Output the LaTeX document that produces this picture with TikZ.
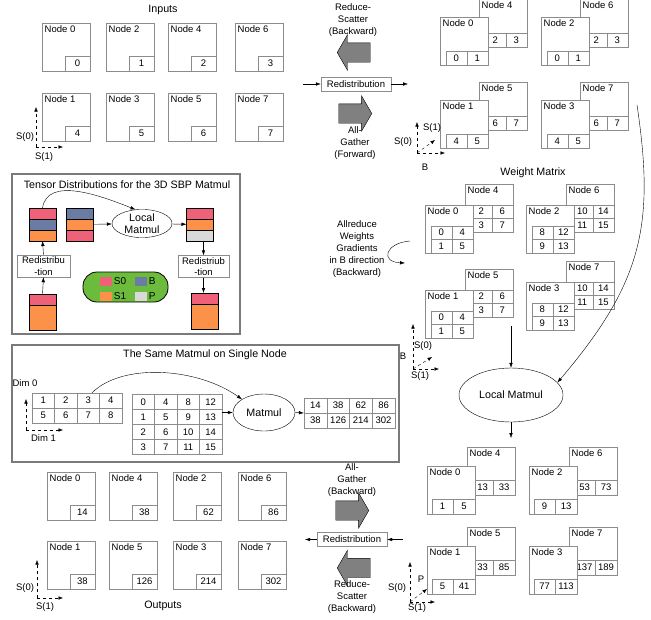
\documentclass[tikz,border=0pt]{standalone}
\usepackage{fontspec}
\setmainfont{Liberation Sans}
\usetikzlibrary{arrows.meta, positioning, shapes.geometric, shapes.arrows, matrix}

\definecolor{boxgray}{HTML}{8C8C8C}
\definecolor{framegray}{HTML}{7A7A7A}
\definecolor{sbpred}{HTML}{EF6079}
\definecolor{sbpblue}{HTML}{6A7BA4}
\definecolor{sbporange}{HTML}{FC9149}
\definecolor{sbpgray}{HTML}{D9D9D9}
\definecolor{legendgreen}{HTML}{6CBB3C}
\definecolor{bigarrowgray}{HTML}{808080}

\begin{document}
\begin{tikzpicture}[
x=1pt, y=-1pt,
font=\fontsize{9.5}{11.5}\selectfont,
heading/.style={font=\fontsize{10.7}{12}\selectfont},
nodebox/.style={
    draw=boxgray,
    fill=white,
    minimum width=48pt,
    minimum height=48pt,
    inner sep=0,
    outer sep=0,
    anchor=north west,
    label={[anchor=north west, inner sep=2.5pt]north west:#1}
},
valcell/.style={draw=boxgray, fill=white, minimum width=25pt, minimum height=15pt,
    inner sep=0, outer sep=0, anchor=south east},
cellgrid/.style={
    matrix of nodes,
    ampersand replacement=\&,
    inner sep=0, outer sep=0,
    column sep=-0.4pt, row sep=-0.4pt,
    anchor=south east,
    nodes={draw=boxgray, fill=white, minimum width=21pt, minimum height=13.5pt,
        inner sep=0, outer sep=0, anchor=center}
},
redist/.style={draw=boxgray, fill=white, minimum width=70pt, minimum height=14pt, inner sep=1pt},
multiline/.style={align=center, font=\fontsize{9.5}{12}\selectfont},
arrow/.style={-{Latex[length=5pt, width=3.5pt]}},
axis/.style={dashed, -{Latex[length=4.5pt, width=3.5pt]}},
bigarrow/.style={
    single arrow,
    draw,
    fill=bigarrowgray,
    minimum height=33pt,
    inner xsep=0pt,
    inner ysep=9.5pt,
    single arrow head extend=8pt,
    single arrow tip angle=120,
    anchor=tip
},
frame/.style={draw=framegray, line width=1.6pt, minimum width=#1, anchor=north west},
bar/.style={draw, line width=0.8pt, minimum width=27pt, minimum height=11pt, inner sep=0, outer sep=0},
legsq/.style={minimum width=12pt, minimum height=9pt, inner sep=0}
]
\useasboundingbox (0,0) rectangle (651,619);

% Inputs
\node[heading] (inputs) at (163,10) {Inputs};
\foreach \nn/\xx/\yy/\vv in {0/42/23/0, 2/106/23/1, 4/168/23/2, 6/235/23/3,
                             1/42/93/4, 3/106/93/5, 5/168/93/6, 7/235/93/7} {
    \node[nodebox=Node \nn] (inp\nn) at (\xx,\yy) {};
    \node[valcell] (inpv\nn) at (inp\nn.south east) {\vv};
}
\coordinate (inaxis) at (36,147);
\draw[axis] (inaxis) -- ++(0,-40);
\draw[axis] (inaxis) -- ++(27,0);
\node (ins0) at (25,137) {S(0)};
\node (ins1) at (44,157) {S(1)};

% Redistribution between inputs and the 3D layout
\node[multiline] (rstop) at (353,20) {Reduce-\\Scatter\\(Backward)};
\node[bigarrow, shape border rotate=180] (bwdtop) at (337,52.5) {};
\node[redist] (redtop) at (356,84) {Redistribution};
\coordinate (redtopin) at (303,84);
\coordinate (redtopout) at (408,84);
\draw[arrow] (redtopin) -- (redtop);
\draw[arrow] (redtop) -- (redtopout);
\node[bigarrow] (fwdtop) at (372,113.5) {};
\node[multiline] (agtop) at (355,143.5) {All-\\Gather\\(Forward)};

% Inputs on the 3D layout
\foreach \fr/\bk/\xx/\yy/\va/\vb/\vc/\vd in {0/4/440/17/0/1/2/3, 2/6/541/17/0/1/2/3,
                                             1/5/440/100/4/5/6/7, 3/7/541/100/4/5/6/7} {
    \node[nodebox=Node \bk] (act\bk) at (\xx+39,\yy-18) {};
    \matrix[cellgrid] (actm\bk) at (act\bk.south east) {\vc \& \vd\\};
    \node[nodebox=Node \fr] (act\fr) at (\xx,\yy) {};
    \matrix[cellgrid] (actm\fr) at (act\fr.south east) {\va \& \vb\\};
}
\coordinate (actaxis) at (417,153);
\draw[axis] (actaxis) -- ++(0,-31);
\draw[axis] (actaxis) -- ++(28,0);
\draw[axis] (actaxis) -- ++(18,-13);
\node (acts0) at (403,142) {S(0)};
\node (acts1) at (432,128) {S(1)};
\node (actb) at (425,167) {B};

% Weight matrix
\node[heading] (wtitle) at (533,173) {Weight Matrix};
\foreach \fr/\bk/\xx/\yy/\va/\vb/\vc/\vd/\ve/\vf/\vg/\vh in {
        0/4/425/205/0/4/1/5/2/6/3/7, 2/6/526/205/8/12/9/13/10/14/11/15,
        1/5/425/290/0/4/1/5/2/6/3/7, 3/7/526/282/8/12/9/13/10/14/11/15} {
    \node[nodebox=Node \bk] (wgt\bk) at (\xx+40,\yy-21) {};
    \matrix[cellgrid] (wgtm\bk) at (wgt\bk.south east) {\ve \& \vf\\ \vg \& \vh\\};
    \node[nodebox=Node \fr] (wgt\fr) at (\xx,\yy) {};
    \matrix[cellgrid] (wgtm\fr) at (wgt\fr.south east) {\va \& \vb\\ \vc \& \vd\\};
}
\node[multiline] (allred) at (357,249) {Allreduce\\Weights\\Gradients\\in B direction\\(Backward)};
\coordinate (allredin) at (410,241);
\coordinate (allredout) at (405,263);
\draw[arrow] (allredin) .. controls (385,243) and (380,262) .. (allredout);
\coordinate (wgtaxis) at (413,369);
\draw[axis] (wgtaxis) -- ++(0,-45);
\draw[axis] (wgtaxis) -- ++(26,0);
\draw[axis] (wgtaxis) -- ++(19,-12);
\node (wgts0) at (423,346) {S(0)};
\node (wgts1) at (420,376) {S(1)};
\node (wgtb) at (403,356) {B};

% Local matmul
\node[draw, ellipse, minimum width=104pt, minimum height=54pt, heading] (lmm) at (511,395) {Local Matmul};
\coordinate (wgtdown) at (511,326);
\coordinate (lmmout) at (511,438);
\coordinate (gradtop) at (637,105);
\draw[arrow] (wgtdown) -- (lmm.north);
\draw[arrow] (lmm.south) -- (lmmout);
\draw[arrow] (gradtop) .. controls +(18,120) and +(85,-100) .. (lmm.15);

% Tensor distributions
\node[frame=228pt, minimum height=160pt] (tdframe) at (11,173) {};
\node[heading] (tdtitle) at (127,185) {Tensor Distributions for the 3D SBP Matmul};
\node[bar, fill=sbpred] (ls1) at (42.5,213.5) {};
\node[bar, fill=sbpblue, below=0pt of ls1] (ls2) {};
\node[bar, fill=sbporange, below=0pt of ls2] (ls3) {};
\node[bar, fill=sbpblue] (ms1) at (80,213.5) {};
\node[bar, fill=sbporange, below=0pt of ms1] (ms2) {};
\node[bar, fill=sbpred, below=0pt of ms2] (ms3) {};
\node[bar, fill=sbpred] (rs1) at (200,213.5) {};
\node[bar, fill=sbporange, below=0pt of rs1] (rs2) {};
\node[bar, fill=sbpgray, below=0pt of rs2] (rs3) {};
\node[bar, fill=sbpred] (lb1) at (42.5,299.5) {};
\node[bar, fill=sbporange, minimum height=25pt, below=0pt of lb1] (lb2) {};
\node[bar, fill=sbpred] (rb1) at (205,298.5) {};
\node[bar, fill=sbporange, minimum height=25pt, below=0pt of rb1] (rb2) {};
\node[draw, ellipse, minimum width=60pt, minimum height=25pt, inner sep=0, align=center,
    font=\fontsize{10.7}{12}\selectfont] (lm) at (142,223.5) {Local\\Matmul};
\node[redist, minimum width=53pt, minimum height=22pt, align=center] (rdl) at (43.5,266) {Redistribu\\-tion};
\node[redist, minimum width=51pt, minimum height=22pt, align=center] (rdr) at (203.5,266.5) {Redistriub\\-tion};
\draw[arrow] (ls1.north) .. controls +(5,-32) and +(-35,-14) .. (lm.115);
\draw[arrow] (ms2) -- (lm);
\draw[arrow] (lm) -- (rs2);
\draw[arrow] (lb1.north) -- (rdl.south);
\draw[arrow] (rdl.north) -- (ls3.south);
\draw[arrow] (rdr.north |- rs3.south) -- (rdr.north);
\draw[arrow] (rdr.south) -- (rdr.south |- rb1.north);
\node[draw, line width=0.8pt, fill=legendgreen, rounded corners=14pt, minimum width=85pt, minimum height=30pt] (legend) at (125.5,287) {};
\node[legsq, fill=sbpred] (legs0) at (106,281.5) {};
\node[legsq, fill=sbpblue] (legb) at (141,281.5) {};
\node[legsq, fill=sbporange] (legs1) at (106,296.5) {};
\node[legsq, fill=sbpgray] (legp) at (141,296.5) {};
\node[right=0.5pt of legs0, font=\fontsize{10}{12}\selectfont, inner sep=1pt] (legs0t) {S0};
\node[right=0.5pt of legb, font=\fontsize{10}{12}\selectfont, inner sep=1pt] (legbt) {B};
\node[right=0.5pt of legs1, font=\fontsize{10}{12}\selectfont, inner sep=1pt] (legs1t) {S1};
\node[right=0.5pt of legp, font=\fontsize{10}{12}\selectfont, inner sep=1pt] (legpt) {P};

% The same matmul on a single node
\node[frame=387pt, minimum height=117pt] (smframe) at (11,344) {};
\node[heading] (smtitle) at (205,355) {The Same Matmul on Single Node};
\matrix[cellgrid, anchor=center, nodes={minimum width=22.5pt, minimum height=15pt}] (lmat) at (77,408)
    {1 \& 2 \& 3 \& 4\\ 5 \& 6 \& 7 \& 8\\};
\matrix[cellgrid, anchor=center, nodes={minimum width=22.5pt, minimum height=15pt}] (rmat) at (177,424.5)
    {0 \& 4 \& 8 \& 12\\ 1 \& 5 \& 9 \& 13\\ 2 \& 6 \& 10 \& 14\\ 3 \& 7 \& 11 \& 15\\};
\node[draw, ellipse, minimum width=62pt, minimum height=37pt, heading] (mm) at (264,412.5) {Matmul};
\matrix[cellgrid, anchor=center, nodes={minimum width=22.7pt, minimum height=15pt}] (omat) at (349.5,413)
    {14 \& 38 \& 62 \& 86\\ 38 \& 126 \& 214 \& 302\\};
\draw[arrow] ([xshift=15pt]lmat.north) .. controls +(30,-30) and +(-45,-32) .. (mm.north west);
\draw[arrow] (rmat.east |- mm.west) -- (mm.west);
\draw[arrow] (mm.east) -- (omat.west);
\coordinate (dimaxis) at (26,430);
\draw[axis] (dimaxis) -- ++(0,-31);
\draw[axis] (dimaxis) -- ++(37,0);
\node (dim0) at (25,383) {Dim 0};
\node (dim1) at (43.5,438) {Dim 1};

% Outputs on the 3D layout
\foreach \fr/\bk/\xx/\yy/\va/\vb/\vc/\vd in {0/4/427/466/1/5/13/33, 2/6/529/466/9/13/53/73,
                                             1/5/427/546/5/41/33/85, 3/7/529/546/77/113/137/189} {
    \node[nodebox=Node \bk] (res\bk) at (\xx+40,\yy-19) {};
    \matrix[cellgrid, nodes={minimum width=21.5pt, minimum height=15pt}] (resm\bk) at (res\bk.south east) {\vc \& \vd\\};
    \node[nodebox=Node \fr] (res\fr) at (\xx,\yy) {};
    \matrix[cellgrid, nodes={minimum width=21.5pt, minimum height=15pt}] (resm\fr) at (res\fr.south east) {\va \& \vb\\};
}
\coordinate (resaxis) at (410,602);
\draw[axis] (resaxis) -- ++(0,-40);
\draw[axis] (resaxis) -- ++(25,0);
\draw[axis] (resaxis) -- ++(17,-13);
\node (resp) at (421,579) {P};
\node (ress0) at (397,588) {S(0)};
\node (ress1) at (417,608) {S(1)};

% Redistribution between the 3D layout and the outputs
\node[multiline] (agbot) at (352,480) {All-\\Gather\\(Backward)};
\node[bigarrow] (fwdbot) at (369,510.5) {};
\node[redist] (redbot) at (352,539.5) {Redistribution};
\coordinate (redbotin) at (403,539.5);
\coordinate (redbotout) at (305,539.5);
\draw[arrow] (redbotin) -- (redbot);
\draw[arrow] (redbot) -- (redbotout);
\node[bigarrow, shape border rotate=180] (bwdbot) at (337,568) {};
\node[multiline] (rsbot) at (352,597) {Reduce-\\Scatter\\(Backward)};

% Outputs
\foreach \nn/\xx/\yy/\vv in {0/47/472/14, 4/109/472/38, 2/173/472/62, 6/238/472/86,
                             1/47/541/38, 5/109/541/126, 3/173/541/214, 7/238/541/302} {
    \node[nodebox=Node \nn] (outp\nn) at (\xx,\yy) {};
    \node[valcell] (outv\nn) at (outp\nn.south east) {\vv};
}
\coordinate (outaxis) at (37,598);
\draw[axis] (outaxis) -- ++(0,-38);
\draw[axis] (outaxis) -- ++(26,0);
\node (outs0) at (25,588) {S(0)};
\node (outs1) at (45,607) {S(1)};
\node[heading] (outputs) at (163,606) {Outputs};

\end{tikzpicture}
\end{document}
